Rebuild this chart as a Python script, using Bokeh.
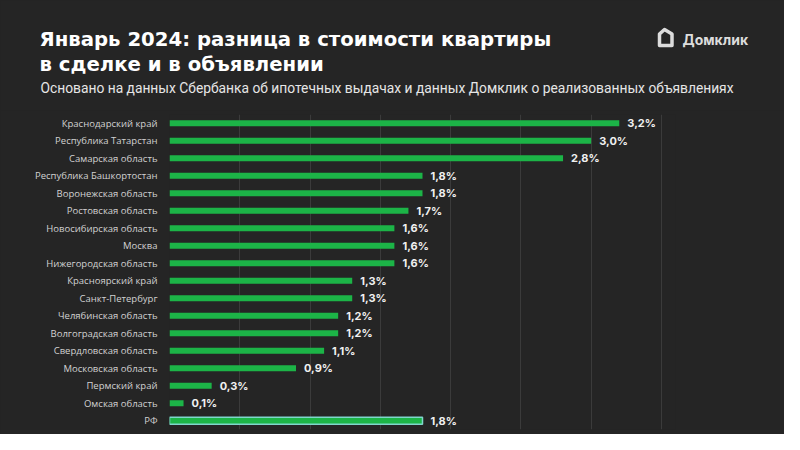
from bokeh.plotting import figure
from bokeh.layouts import column
from bokeh.models import ColumnDataSource, FactorRange, Range1d, SingleIntervalTicker
from bokeh.core.properties import value
from bokeh.embed import file_html
from bokeh.resources import INLINE

regions = ["Краснодарский край", "Республика Татарстан", "Самарская область",
           "Республика Башкортостан", "Воронежская область", "Ростовская область",
           "Новосибирская область", "Москва", "Нижегородская область",
           "Красноярский край", "Санкт-Петербург", "Челябинская область",
           "Волгоградская область", "Свердловская область", "Московская область",
           "Пермский край", "Омская область"]
values = [3.2, 3.0, 2.8, 1.8, 1.8, 1.7, 1.6, 1.6, 1.6, 1.3, 1.3, 1.2, 1.2, 1.1, 0.9, 0.3, 0.1]
total_label = "РФ"
total_value = 1.8

title_lines = ["Январь 2024: разница в стоимости квартиры", "в сделке и в объявлении"]
subtitle = "Основано на данных Сбербанка об ипотечных выдачах и данных Домклик о реализованных объявлениях"
brand = "Домклик"

BG = "#252525"
GREEN = "#1cb447"
GRID = "#3b3b3b"
W = 784
HH = 110          # header height
HM = 324          # main chart height

# ---------- header (title, subtitle, logo) ----------
hdr = figure(width=W, height=HH, output_backend="svg", toolbar_location=None,
             x_range=Range1d(0, W), y_range=Range1d(HH, 0),
             min_border=0, background_fill_color=BG, border_fill_color=BG,
             outline_line_color=None)
hdr.frame_align = False
hdr.axis.visible = False
hdr.grid.visible = False

hdr.text(x=[39, 39], y=[38.5, 64], text=title_lines, text_font=value("DejaVu Sans"),
         text_font_size="19.7px", text_font_style="bold", text_color="#ffffff",
         text_baseline="middle")
hdr.text(x=[40], y=[87.5], text=[subtitle], text_font=value("Roboto"),
         text_font_size="13.8px", text_color="#e6e6e6", text_baseline="middle")
hdr.text(x=[682], y=[39], text=[brand], text_font=value("Inter"),
         text_font_size="14px", text_font_style="bold", text_color="#dcdcdc",
         text_baseline="middle")
hdr.patch(x=[659, 664, 671.5, 671.5, 659], y=[33.5, 29, 33.5, 45, 45],
          fill_color=BG, line_color="#dcdcdc", line_width=3.5, line_join="round")

# ---------- main chart ----------
factors = list(reversed(regions + [total_label]))

def fmt(v):
    return f"{v:.1f}".replace(".", ",") + "%"

src = ColumnDataSource(dict(cat=regions, val=values, lab=[fmt(v) for v in values]))
src_tot = ColumnDataSource(dict(cat=[total_label], val=[total_value], lab=[fmt(total_value)]))

p = figure(width=W, height=HM, output_backend="svg", toolbar_location=None,
           y_range=FactorRange(factors=factors, range_padding=0),
           x_range=Range1d(0, 3.6),
           min_border_left=169, min_border_right=W - 169 - 506,
           min_border_top=4, min_border_bottom=5,
           background_fill_color=BG, border_fill_color=BG, outline_line_color=None)
p.frame_align = False

p.hbar(y="cat", right="val", left=0, height=0.34, source=src, fill_color=GREEN, line_color=None)
p.hbar(y="cat", right="val", left=0, height=0.4, source=src_tot, fill_color=GREEN,
       line_color="#7fd6cc", line_width=1.5)

for s in (src, src_tot):
    p.text(x="val", y="cat", text="lab", source=s, x_offset=8, text_baseline="middle",
           text_color="#f0f0f0", text_font=value("Inter"), text_font_size="11px",
           text_font_style="bold")

p.xaxis.visible = False
p.xgrid.ticker = SingleIntervalTicker(interval=0.5)
p.xgrid.grid_line_color = GRID
p.xgrid.grid_line_width = 1
p.ygrid.grid_line_color = None

ya = p.yaxis[0]
ya.axis_line_color = None
ya.major_tick_line_color = None
ya.minor_tick_line_color = None
ya.major_tick_out = 0
ya.major_label_standoff = 12
ya.major_label_text_color = "#d2d2d2"
ya.major_label_text_font = "Open Sans"
ya.major_label_text_font_size = "9.5px"

layout = column(hdr, p, spacing=0, styles={"background-color": BG})

html = file_html(layout, INLINE)
html = html.replace("<body>", f'<body style="background:{BG};">', 1)
open("out.html", "w").write(html)
